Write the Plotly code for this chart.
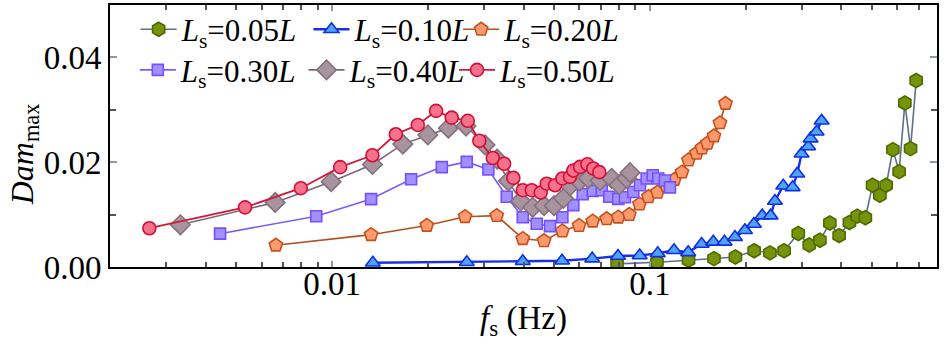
import math
import plotly.graph_objects as go

# ---- data ----
x05 = [0.0788, 0.1052, 0.1322, 0.1590, 0.1857, 0.2127, 0.2385, 0.2642, 0.2928, 0.3170,
       0.3425, 0.3681, 0.3937, 0.4241, 0.4487, 0.4761, 0.5016, 0.5288, 0.5536, 0.5811,
       0.6081, 0.6338, 0.6605, 0.6879]
y05 = [0.0006, 0.0009, 0.0013, 0.0016, 0.0019, 0.0031, 0.0027, 0.0031, 0.0064, 0.0042,
       0.0051, 0.0084, 0.0060, 0.0085, 0.0097, 0.0094, 0.0156, 0.0137, 0.0156, 0.0224,
       0.0182, 0.0313, 0.0226, 0.0356]

x10 = [0.01343, 0.02652, 0.03979, 0.05289, 0.0658, 0.07932, 0.09281, 0.1058, 0.1190, 0.1319,
       0.1454, 0.1582, 0.1716, 0.1851, 0.1990, 0.2123, 0.2255, 0.2397, 0.2473, 0.2626,
       0.2811, 0.2906, 0.2999, 0.3146, 0.3201, 0.3344, 0.3467]
y10 = [0.0008, 0.0009, 0.0011, 0.0012, 0.0016, 0.0021, 0.0022, 0.0026, 0.0032, 0.0028,
       0.0044, 0.0048, 0.0048, 0.0057, 0.0070, 0.0082, 0.0098, 0.0098, 0.0126, 0.0155,
       0.0152, 0.0178, 0.0216, 0.0230, 0.0245, 0.0258, 0.0279]

x20 = [0.00665, 0.01326, 0.01985, 0.02619, 0.03295, 0.03979, 0.04642, 0.0530, 0.05981, 0.06604,
       0.07307, 0.0795, 0.08609, 0.09268, 0.0989, 0.1056, 0.1127, 0.1194, 0.1261, 0.1322,
       0.1401, 0.1457, 0.1516, 0.1590, 0.1660, 0.1728]
y20 = [0.00415, 0.00617, 0.00792, 0.0096, 0.0098, 0.0054, 0.0050, 0.00685, 0.0079, 0.00874,
       0.0092, 0.0095, 0.0100, 0.0120, 0.0134, 0.01425, 0.0155, 0.0167, 0.0181, 0.0204,
       0.0217, 0.0227, 0.0236, 0.0250, 0.0275, 0.0312]

x30 = [0.00444, 0.00891, 0.01326, 0.01772, 0.02213, 0.02652, 0.03101, 0.03543, 0.03979, 0.04402,
       0.04848, 0.0530, 0.05739, 0.06144, 0.06604, 0.0705, 0.07447, 0.0795, 0.08345, 0.08861,
       0.09302, 0.09763, 0.1020, 0.1062, 0.1115, 0.1156]
y30 = [0.00636, 0.00968, 0.01296, 0.01674, 0.01906, 0.02006, 0.01862, 0.0134, 0.0095, 0.00825,
       0.0078, 0.0095, 0.0118, 0.0139, 0.01453, 0.01466, 0.0134, 0.0130, 0.0133, 0.0143,
       0.0156, 0.0169, 0.0175, 0.0169, 0.0165, 0.0152]

x40 = [0.00333, 0.00662, 0.00993, 0.01339, 0.01668, 0.0200, 0.02321, 0.02638, 0.03027, 0.03303,
       0.03585, 0.03921, 0.04276, 0.04642, 0.04989, 0.05339, 0.05603, 0.05995, 0.06397, 0.06963,
       0.0758, 0.08009, 0.08448, 0.08653]
y40 = [0.00806, 0.01232, 0.01628, 0.01957, 0.02345, 0.0252, 0.0265, 0.0269, 0.0233, 0.0206,
       0.0164, 0.0126, 0.0114, 0.0117, 0.0117, 0.0131, 0.0155, 0.0164, 0.0169, 0.0165,
       0.0169, 0.0157, 0.0169, 0.0180]

x50 = [0.00266, 0.00532, 0.00797, 0.0106, 0.01339, 0.01586, 0.0186, 0.02123, 0.02378, 0.02671,
       0.02905, 0.03202, 0.03475, 0.03717, 0.03979, 0.04246, 0.04532, 0.04734, 0.05026, 0.0530,
       0.05603, 0.05739, 0.06025, 0.06352, 0.06634, 0.06928]
y50 = [0.0074, 0.01138, 0.01504, 0.01906, 0.02132, 0.02534, 0.02711, 0.0298, 0.0285, 0.0279,
       0.0241, 0.0208, 0.0197, 0.0170, 0.01466, 0.01466, 0.0142, 0.0159, 0.0156, 0.0169,
       0.0172, 0.0184, 0.0191, 0.0196, 0.0188, 0.0181]

names = ["<i>L</i><sub>s</sub>=0.05<i>L</i>", "<i>L</i><sub>s</sub>=0.10<i>L</i>",
         "<i>L</i><sub>s</sub>=0.20<i>L</i>", "<i>L</i><sub>s</sub>=0.30<i>L</i>",
         "<i>L</i><sub>s</sub>=0.40<i>L</i>", "<i>L</i><sub>s</sub>=0.50<i>L</i>"]

x_ticks = [0.01, 0.1]
x_ticktext = ["0.01", "0.1"]
y_ticks = [0.0, 0.02, 0.04]

FONT = "Liberation Serif"

styles = [
    dict(symbol="hexagon", size=14, fill="#76940a", edge="#4f6a00", line="#5d7183", lw=1.6),
    dict(symbol="triangle-up", size=13, fill="#4fa3ff", edge="#1030e0", line="#1a2ee6", lw=2.4),
    dict(symbol="pentagon", size=14, fill="#ff9a6e", edge="#c4521e", line="#b4501e", lw=1.6),
    dict(symbol="square", size=11, fill="#a190ff", edge="#7650ff", line="#7a5cff", lw=1.6),
    dict(symbol="diamond", size=15, fill="#a8949f", edge="#86707e", line="#7e6676", lw=1.6),
    dict(symbol="circle", size=13, fill="#f7708c", edge="#d01034", line="#d01838", lw=1.8),
]

# legend box anchors (paper coords): one legend per entry, 2 rows x 3 columns
legend_pos = [(0.031, 0.906), (0.240, 0.906), (0.421, 0.906),
              (0.030, 0.751), (0.234, 0.751), (0.416, 0.751)]
legend_ids = ["legend", "legend2", "legend3", "legend4", "legend5", "legend6"]

xs = [x05, x10, x20, x30, x40, x50]
ys = [y05, y10, y20, y30, y40, y50]

fig = go.Figure()
for i, (xv, yv, st, nm) in enumerate(zip(xs, ys, styles, names)):
    fig.add_trace(go.Scatter(
        x=xv, y=yv, name=nm, mode="lines+markers", showlegend=True,
        line=dict(color=st["line"], width=st["lw"]),
        marker=dict(symbol=st["symbol"], size=st["size"], color=st["fill"],
                    line=dict(color=st["edge"], width=1.6)),
        legend=legend_ids[i],
    ))

minor_vals = [m * 10 ** e for e in (-3, -2, -1) for m in range(2, 10)]

fig.update_xaxes(
    type="log", range=[math.log10(0.002), math.log10(0.8)],
    tickvals=x_ticks, ticktext=x_ticktext,
    ticks="inside", ticklen=6, tickwidth=1.5, tickcolor="#8a9aa8",
    minor=dict(tickvals=minor_vals, ticks="inside", ticklen=5, tickwidth=1.5, tickcolor="#555555"),
    showline=True, linecolor="black", linewidth=2, mirror="ticks",
    showgrid=False, zeroline=False, ticklabelstandoff=-14,
    tickfont=dict(family=FONT, size=33, color="black"),
)
fig.update_yaxes(
    range=[0, 0.05], tickvals=y_ticks, tickformat=".2f",
    ticks="inside", ticklen=7, tickwidth=1.5, tickcolor="#8a9aa8",
    minor=dict(dtick=0.01, ticks="inside", ticklen=6, tickwidth=1.5, tickcolor="#555555"),
    showline=True, linecolor="black", linewidth=2, mirror="ticks",
    showgrid=False, zeroline=False,
    tickfont=dict(family=FONT, size=33, color="black"),
)

layout_legends = {}
for lid, (lx, ly) in zip(legend_ids, legend_pos):
    layout_legends[lid] = dict(
        x=lx, y=ly, xanchor="left", yanchor="middle", orientation="h",
        font=dict(family=FONT, size=31, color="black"),
        bgcolor="rgba(0,0,0,0)", itemwidth=36, itemclick=False,
        visible=True,
    )

fig.update_layout(
    width=946, height=353,
    margin=dict(l=110, r=9, t=3, b=86),
    plot_bgcolor="white", paper_bgcolor="white",
    showlegend=True,
    annotations=[
        dict(text="<i>Dam</i><sub>max</sub>", xref="paper", yref="paper",
             x=-0.104, y=0.43, textangle=-90, showarrow=False,
             font=dict(family=FONT, size=32, color="black"), xanchor="center", yanchor="middle"),
        dict(text="<i>f</i><sub>s</sub> (Hz)", xref="paper", yref="paper",
             x=0.5, y=-0.205, showarrow=False,
             font=dict(family=FONT, size=33, color="black"), xanchor="center", yanchor="middle"),
    ],
    **layout_legends,
)

fig.write_html("out.html")
